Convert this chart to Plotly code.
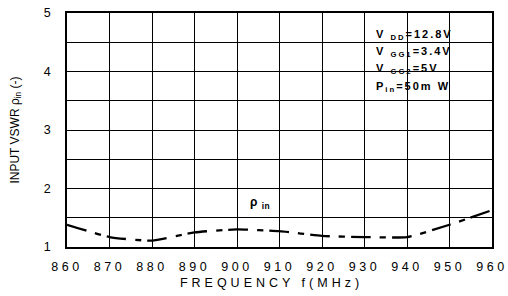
import plotly.graph_objects as go

freq = [860, 870, 880, 890, 900, 910, 920, 930, 940, 950, 960]
vswr = [1.38, 1.17, 1.11, 1.25, 1.30, 1.27, 1.19, 1.17, 1.17, 1.38, 1.63]
x_ticks = [860, 870, 880, 890, 900, 910, 920, 930, 940, 950, 960]
cond_lines = ["V <sub>DD</sub>=12.8V", "V <sub>GG1</sub>=3.4V", "V <sub>GG2</sub>=5V", "P<sub>in</sub>=50m W"]

FONT = "Liberation Sans, Arial, sans-serif"

fig = go.Figure()
fig.add_trace(go.Scatter(
    x=freq, y=vswr, mode="lines",
    line=dict(color="black", width=2.3, dash="20px,9px,6px,6px", shape="spline", smoothing=0.5),
    showlegend=False, hoverinfo="skip"))

fig.update_layout(
    width=508, height=296,
    margin=dict(l=67, r=16, t=13, b=49, autoexpand=False),
    paper_bgcolor="white", plot_bgcolor="white",
    font=dict(family=FONT, color="black", size=12),
    xaxis=dict(range=[860, 960], tickvals=x_ticks, ticktext=[str(v) for v in x_ticks], automargin=False,
               showgrid=True, gridcolor="black", gridwidth=1, showline=True, linecolor="black", linewidth=1.6,
               mirror=True, ticks="", zeroline=False, tickfont=dict(size=12.5), ticklabelstandoff=7,
               title=dict(text="FREQUENCY f(MHz)", font=dict(size=12.5), standoff=5)),
    yaxis=dict(range=[1, 5], tickvals=[1, 1.5, 2, 2.5, 3, 3.5, 4, 4.5, 5], automargin=False,
               ticktext=["1", "", "2", "", "3", "", "4", "", "5"],
               showgrid=True, gridcolor="black", gridwidth=1, showline=True, linecolor="black", linewidth=1.6,
               mirror=True, ticks="", zeroline=False, tickfont=dict(size=12.5), ticklabelstandoff=12,
               title=dict(text="INPUT VSWR ρ<sub>in</sub> (-)", font=dict(size=12), standoff=22)),
)

for i, t in enumerate(cond_lines):
    fig.add_annotation(x=0, y=1, xref="x domain", yref="y domain", xanchor="left", yanchor="middle",
                       align="left", text="<b>" + t + "</b>", showarrow=False, font=dict(size=11),
                       xshift=307, yshift=-22 - 17.2 * i)

fig.add_annotation(x=902.5, y=1.76, xref="x", yref="y", xanchor="left", yanchor="middle", align="left",
                   text="<b>ρ <sub>in</sub></b>", showarrow=False, font=dict(size=12))

post = """
document.body.style.margin='0';
var gd = document.getElementById('{plot_id}');
function applySpacing(){
  gd.querySelectorAll('.xtick text').forEach(function(t){ t.style.letterSpacing = '3.5px'; });
  gd.querySelectorAll('text.xtitle').forEach(function(t){
    t.style.letterSpacing = '4px'; t.setAttribute('dx', '-8');
  });
  var ann = gd.querySelectorAll('.annotation-text');
  for (var i = 0; i < ann.length; i++) {
    ann[i].style.letterSpacing = (i < 4) ? '2px' : '0.5px';
  }
}
applySpacing();
if (gd.on) { gd.on('plotly_afterplot', applySpacing); }
setTimeout(applySpacing, 50);
setTimeout(applySpacing, 300);
"""

fig.write_html("out.html", post_script=post, config={"displayModeBar": False})
